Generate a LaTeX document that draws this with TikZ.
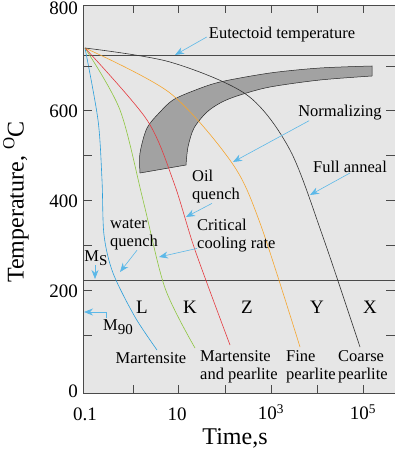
\documentclass[tikz,border=0pt]{standalone}
\usepackage{fontspec}
\setmainfont{Liberation Serif}
\usetikzlibrary{arrows.meta}
\definecolor{bggray}{HTML}{E6E6E6}
\definecolor{bandgray}{HTML}{A2A2A2}
\definecolor{axisgray}{HTML}{4A4A4A}
\definecolor{ptrblue}{HTML}{5CB8E8}
\definecolor{cblue}{HTML}{2A9FDB}
\definecolor{cgreen}{HTML}{8DC63F}
\definecolor{cred}{HTML}{E53A40}
\definecolor{corange}{HTML}{F5A630}
\newcommand{\lowsub}[1]{\raisebox{-0.45ex}{\fontsize{15}{15}\selectfont #1}}
\tikzset{
  lbl/.style={font=\fontsize{16.5}{18}\selectfont, inner sep=0pt, align=left},
  zone/.style={font=\fontsize{19}{19}\selectfont, inner sep=0pt},
  ticklbl/.style={font=\fontsize{19}{19}\selectfont, inner sep=0pt},
  axlbl/.style={font=\fontsize{24}{24}\selectfont, inner sep=0pt},
  pointer/.style={ptrblue, line width=0.6pt, -{Stealth[length=9pt,width=7pt]}},
  cooling/.style={line width=0.6pt},
}

\begin{document}
\begin{tikzpicture}[x=1pt,y=-1pt]
   \useasboundingbox (0,0) rectangle (395,449);
   \fill[bggray] (83,5) rectangle (395,393);
   \filldraw[fill=bandgray, draw=black!85, line width=0.5pt]
      plot[smooth] coordinates {(140,173) (140,153) (147,128) (160,112) (173,100) (193,91) (220,82) (270,73) (320,68) (372,66)}
      -- (372,76)
      -- plot[smooth] coordinates {(372,76) (320,80) (270,87) (240,95) (222,102) (207,112) (194,128) (188,147) (186,165)}
      -- cycle;
   \draw[axisgray, line width=0.7pt] (83,55) -- (395,55);
   \draw[axisgray, line width=0.7pt] (83,280.5) -- (395,280.5);
   \draw[cooling, cblue] plot[smooth] coordinates {(85,48) (98,120) (102,180) (104,235) (113,273) (135,317) (157,350)};
   \draw[cooling, cgreen] plot[smooth] coordinates {(85,48) (120,110) (143,200) (165,288) (195,348)};
   \draw[cooling, cred] plot[smooth] coordinates {(85,48) (147,120) (174,183) (195,250) (230,345)};
   \draw[cooling, corange] plot[smooth] coordinates {(85,48) (170,93) (232,163) (260,223) (300,347)};
   \draw[cooling, black!80] plot[smooth] coordinates {(85,48) (170,62) (247,95) (290,150) (323,237) (360,347)};
   \draw[axisgray, line width=0.7pt] (395,5) -- (83,5) -- (83,393) -- (395,393);
   \foreach \x in {133,178,225,271,317,363} {
      \draw[axisgray, line width=0.7pt] (\x,5) -- ++(0,8);
      \draw[axisgray, line width=0.7pt] (\x,393) -- ++(0,-8);
   }
   \foreach \y in {66,110,155,200,245,290,335} {
      \draw[axisgray, line width=0.7pt] (83,\y) -- ++(9,0);
      \draw[axisgray, line width=0.7pt] (395,\y) -- ++(-9,0);
   }
   \node[ticklbl, anchor=east] (y800) at (78,8) {800};
   \node[ticklbl, anchor=east] (y600) at (78,111) {600};
   \node[ticklbl, anchor=east] (y400) at (78,201) {400};
   \node[ticklbl, anchor=east] (y200) at (78,291) {200};
   \node[ticklbl, anchor=east] (y0) at (78,391) {0};
   \node[ticklbl] (x01) at (85,414) {0.1};
   \node[ticklbl] (x10) at (177,414) {10};
   \node[ticklbl] (x1e3) at (271,412) {10\textsuperscript{3}};
   \node[ticklbl] (x1e5) at (363,412) {10\textsuperscript{5}};
   \node[axlbl] (xlabel) at (235,438) {Time,s};
   \node[axlbl, rotate=90] (ylabel) at (16,202) {Temperature, \textsuperscript{O}C};

   \node[lbl] (eut) at (282,35) {Eutectoid temperature};
   \node[lbl] (norm) at (340,113) {Normalizing};
   \node[lbl] (fanneal) at (350,167) {Full anneal};
   \node[lbl, anchor=north west] (oil) at (192,170) {Oil\\quench};
   \node[lbl, anchor=north west] (crit) at (197,219) {Critical\\cooling rate};
   \node[lbl, anchor=north west] (water) at (110,219) {water\\quench};
   \node[lbl] (ms) at (96,258) {M\lowsub{S}};
   \node[lbl] (m90) at (118,327) {M\lowsub{90}};
   \coordinate (eutpt) at (175,55);
   \coordinate (normpt) at (233,162);
   \coordinate (fapt) at (310,195);
   \coordinate (oilpt) at (186,217);
   \coordinate (critpt) at (159,257);
   \coordinate (waterpt) at (120,272);
   \coordinate (mspt) at (95,279);
   \coordinate (m90pt) at (84,312);
   \draw[pointer] ([xshift=-2pt,yshift=-2pt]eut.west) -- (eutpt);
   \draw[pointer] ([xshift=11pt]norm.south west) -- (normpt);
   \draw[pointer] (fanneal.south) -- (fapt);
   \draw[pointer] ([xshift=-4pt]oil.south) -- (oilpt);
   \draw[pointer] ([yshift=4pt]crit.south west) -- (critpt);
   \draw[pointer] ([xshift=3pt]water.south) -- (waterpt);
   \draw[pointer] (mspt |- ms.south) -- (mspt);
   \draw[pointer] ([xshift=-12pt,yshift=2pt]m90.north) |- (m90pt);

   \node[zone] (zl) at (142,307) {L};
   \node[zone] (zk) at (190,307) {K};
   \node[zone] (zz) at (247,307) {Z};
   \node[zone] (zy) at (317,307) {Y};
   \node[zone] (zx) at (370,307) {X};
   \node[lbl] (mart) at (151,358) {Martensite};
   \node[lbl, anchor=north west] (martp) at (200,350) {Martensite\\and pearlite};
   \node[lbl, anchor=north west] (fine) at (286,350) {Fine\\pearlite};
   \node[lbl, anchor=north west] (coarse) at (338,350) {Coarse\\pearlite};
\end{tikzpicture}
\end{document}
